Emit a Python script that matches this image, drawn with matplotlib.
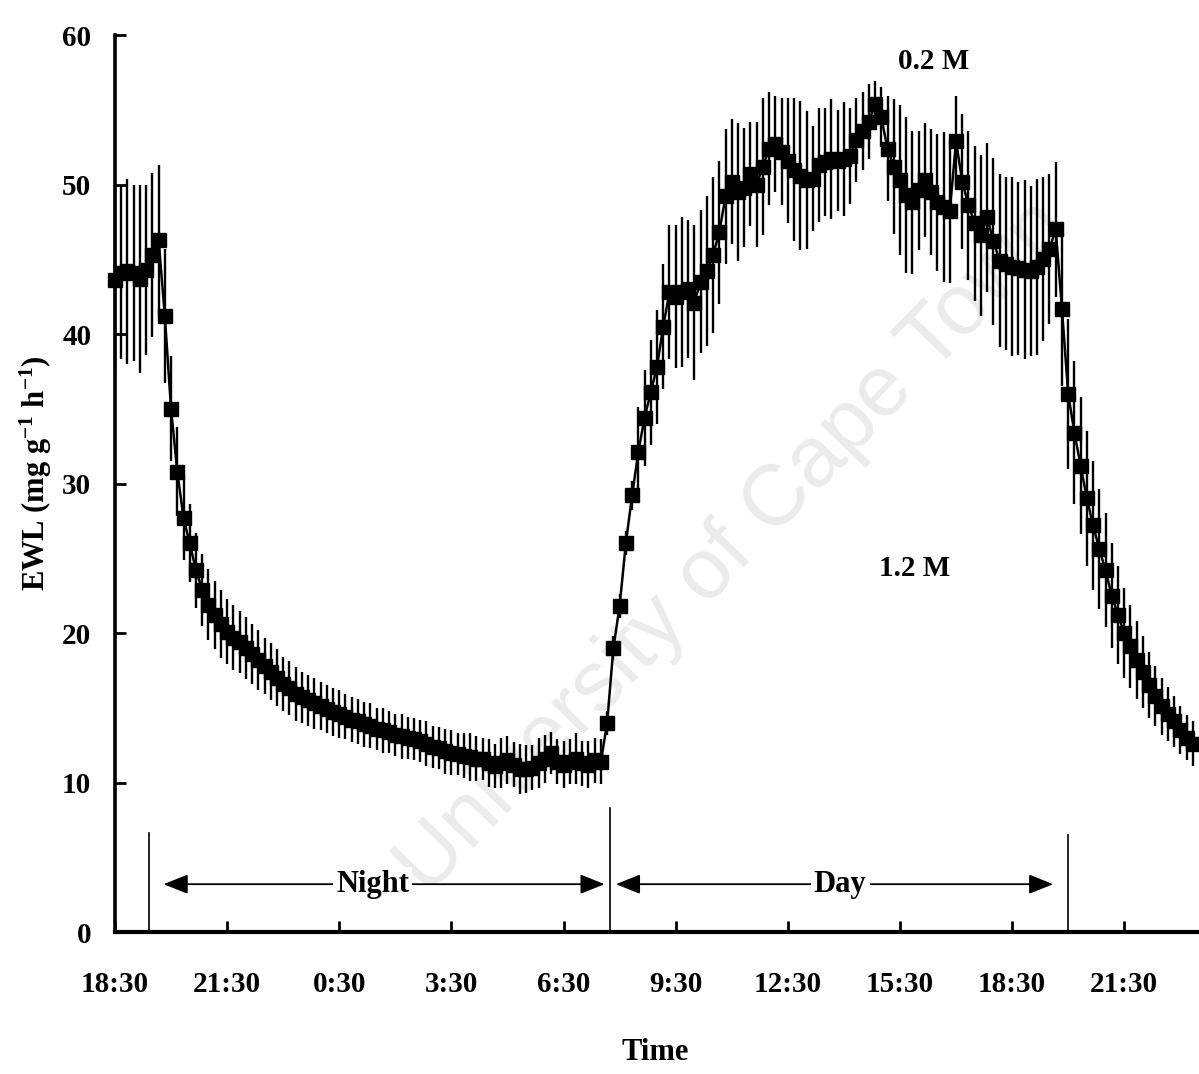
import matplotlib
matplotlib.use("Agg")
import matplotlib.pyplot as plt
import numpy as np

# ---------------- data (10-min samples starting 18:30, hours since 18:30) ----------------
step_hours = 10 / 60.0
ewl = [
    43.6, 44.1, 44.2, 44.1, 43.7, 44.3,
    45.3, 46.3, 41.2, 35.0, 30.8, 27.7,
    26.0, 24.2, 22.9, 21.9, 21.2, 20.6,
    20.1, 19.7, 19.4, 19.0, 18.6, 18.2,
    17.8, 17.4, 17.0, 16.6, 16.3, 15.9,
    15.7, 15.5, 15.3, 15.1, 14.9, 14.7,
    14.6, 14.4, 14.2, 14.1, 13.9, 13.8,
    13.6, 13.5, 13.4, 13.2, 13.1, 13.0,
    12.9, 12.8, 12.6, 12.4, 12.3, 12.1,
    12.0, 11.9, 11.8, 11.7, 11.6, 11.6,
    11.3, 11.1, 11.3, 11.5, 11.2, 10.9,
    10.9, 11.0, 11.3, 11.6, 12.0, 11.4,
    11.2, 11.4, 11.6, 11.3, 11.2, 11.5,
    11.4, 14.0, 19.0, 21.8, 26.0, 29.2,
    32.1, 34.4, 36.1, 37.8, 40.5, 42.8,
    42.5, 42.8, 43.0, 42.1, 43.5, 44.2,
    45.3, 46.8, 49.2, 50.2, 49.5, 49.8,
    50.7, 50.0, 51.2, 52.4, 52.7, 52.2,
    51.6, 51.0, 50.6, 50.3, 50.4, 51.3,
    51.5, 51.7, 51.6, 51.7, 51.9, 53.0,
    53.6, 54.2, 55.4, 54.5, 52.4, 51.2,
    50.3, 49.3, 48.8, 49.6, 50.3, 49.5,
    48.8, 48.5, 48.2, 52.9, 50.2, 48.6,
    47.4, 46.6, 47.8, 46.2, 44.9, 44.7,
    44.5, 44.4, 44.3, 44.2, 44.5, 45.0,
    45.7, 47.0, 41.7, 36.0, 33.4, 31.2,
    29.0, 27.2, 25.6, 24.2, 22.5, 21.2,
    20.0, 19.1, 18.2, 17.4, 16.5, 15.8,
    15.1, 14.6, 14.1, 13.5, 13.0, 12.6,
]
ewl_se = [
    6.0, 5.8, 6.2, 5.9, 6.3, 5.7,
    5.5, 5.0, 4.5, 3.5, 3.0, 2.8,
    2.6, 2.5, 2.4, 2.4, 2.3, 2.3,
    2.2, 2.2, 2.1, 2.1, 2.0, 2.0,
    1.9, 1.9, 1.9, 1.8, 1.8, 1.8,
    1.7, 1.7, 1.7, 1.6, 1.6, 1.6,
    1.6, 1.5, 1.5, 1.5, 1.5, 1.5,
    1.4, 1.5, 1.4, 1.4, 1.5, 1.4,
    1.4, 1.4, 1.5, 1.4, 1.4, 1.5,
    1.5, 1.4, 1.5, 1.6, 1.5, 1.4,
    1.6, 1.5, 1.7, 1.6, 1.5, 1.7,
    1.6, 1.5, 1.7, 1.6, 1.4, 1.5,
    1.6, 1.5, 1.7, 1.5, 1.6, 1.5,
    1.5, 0.8, 0.8, 0.8, 0.8, 1.0,
    3.0, 3.2, 3.5, 3.8, 4.2, 4.5,
    4.8, 5.0, 4.6, 5.2, 4.8, 5.0,
    5.2, 4.8, 4.5, 4.2, 4.6, 4.0,
    3.5, 4.2, 4.6, 3.8, 3.2, 3.6,
    4.2, 4.8, 5.0, 4.6, 3.5, 3.8,
    3.6, 4.0, 3.4, 3.8, 3.2, 2.8,
    2.6, 2.5, 1.5, 2.0, 3.5, 4.5,
    5.0, 5.2, 4.8, 4.0, 3.8, 4.2,
    4.6, 5.0, 4.8, 3.0, 4.5, 5.0,
    5.2, 5.4, 5.0, 5.6, 5.8, 5.8,
    6.0, 5.8, 6.0, 5.7, 5.9, 5.5,
    5.0, 4.5, 5.2, 5.0, 4.8, 4.6,
    4.5, 4.3, 4.0, 3.8, 3.5, 3.3,
    3.0, 2.8, 2.6, 2.4, 2.2, 2.0,
    1.9, 1.8, 1.7, 1.6, 1.5, 1.5,
]
times = np.arange(len(ewl)) * step_hours

tick_hours = [0, 3, 6, 9, 12, 15, 18, 21, 24, 27]
tick_labels = ["18:30", "21:30", "0:30", "3:30", "6:30", "9:30",
               "12:30", "15:30", "18:30", "21:30"]
y_ticks = [0, 10, 20, 30, 40, 50, 60]

# light period boundaries (hours since 18:30) and height of marker lines
period_bounds = [0.9, 13.25, 25.5]
bound_heights = [6.6, 8.3, 6.5]
period_names = ["Night", "Day"]
period_label_x = [6.9, 19.4]
arrow_spans = [(1.3, 13.1), (13.4, 25.1)]
arrow_level = 3.2

conc_labels = ["0.2 M", "1.2 M"]
conc_pos = [(21.9, 58.2), (21.4, 24.3)]

# ---------------- styling ----------------
plt.rcParams["font.family"] = ["Liberation Serif", "DejaVu Serif"]
plt.rcParams["font.weight"] = "bold"
plt.rcParams["mathtext.fontset"] = "custom"
plt.rcParams["mathtext.rm"] = "Liberation Serif:bold"
plt.rcParams["mathtext.it"] = "Liberation Serif:italic:bold"
plt.rcParams["mathtext.bf"] = "Liberation Serif:bold"

fig = plt.figure(figsize=(11.99, 10.74), dpi=100)
fig.patch.set_facecolor("white")
ax = fig.add_axes([0.0959, 0.1322, 0.9041, 0.8352])

# watermark
ax.text(0.612, 0.49, "University of Cape Town", transform=fig.transFigure,
        family="Liberation Sans", fontweight="normal", fontsize=62,
        color="#ebebeb", rotation=46, ha="center", va="center", zorder=0)

ax.errorbar(times, ewl, yerr=ewl_se, fmt="-s", color="black", ms=10,
            lw=1.8, elinewidth=1.7, capsize=0, zorder=3, clip_on=False)

ax.set_xlim(0, 29)
ax.set_ylim(0, 60)
for s in ["top", "right"]:
    ax.spines[s].set_visible(False)
ax.spines["left"].set_linewidth(2.6)
ax.spines["bottom"].set_linewidth(3.0)

ax.set_xticks(tick_hours)
ax.set_xticklabels(tick_labels)
ax.set_yticks(y_ticks)
ax.tick_params(axis="both", direction="in", length=8, width=2, labelsize=21)
ax.tick_params(axis="x", pad=28)
ax.tick_params(axis="y", pad=17)
for lab in ax.get_xticklabels() + ax.get_yticklabels():
    lab.set_fontweight("bold")

ax.set_ylabel(r"EWL (mg g$^{-1}$ h$^{-1}$)", fontsize=22, fontweight="bold")
ax.yaxis.set_label_coords(-0.056, 0.512)
ax.set_xlabel("Time", fontsize=22, fontweight="bold")
ax.xaxis.set_label_coords(0.498, -0.118)

# light period markers
for xb, hb in zip(period_bounds, bound_heights):
    ax.plot([xb, xb], [0, hb], color="black", lw=1.2, zorder=2)
for (x0, x1), name, xl in zip(arrow_spans, period_names, period_label_x):
    ax.annotate("", xy=(x0, arrow_level), xytext=(x1, arrow_level),
                arrowprops=dict(arrowstyle="<|-|>,head_length=0.75,head_width=0.3",
                                color="black", lw=1.3, shrinkA=0, shrinkB=0,
                                mutation_scale=20), zorder=2)
    ax.text(xl, arrow_level, name, ha="center", va="center", fontsize=22,
            fontweight="bold", zorder=4,
            bbox=dict(boxstyle="square,pad=0.1", fc="white", ec="none"))

for lab, (xl, yl) in zip(conc_labels, conc_pos):
    ax.text(xl, yl, lab, ha="center", va="center", fontsize=21,
            fontweight="bold", zorder=4)

fig.savefig("out.png", dpi=100, facecolor="white")
